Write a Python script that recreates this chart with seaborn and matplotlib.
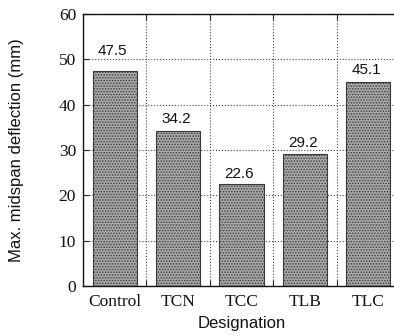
import matplotlib
matplotlib.use("Agg")
import matplotlib.pyplot as plt
import seaborn as sns
import pandas as pd
from matplotlib.ticker import MultipleLocator, FixedLocator

categories = ["Control", "TCN", "TCC", "TLB", "TLC"]
values = [47.5, 34.2, 22.6, 29.2, 45.1]
# vertical offset of each value label above its bar (data units, layout only)
label_offsets = [4.3, 2.7, 2.1, 2.4, 2.5]

df = pd.DataFrame({"Designation": categories, "Deflection": values})

sns.set_theme(style="white")
plt.rcParams["hatch.linewidth"] = 0.7

fig = plt.figure(figsize=(3.94, 3.36), dpi=100)
ax = fig.add_axes([83/394, 1-286/336, (400-83)/394, (286-14)/336])

sns.barplot(data=df, x="Designation", y="Deflection", ax=ax, color="#a8a8a8",
            width=0.7, edgecolor="#3a3a3a", linewidth=0.8, saturation=1)
for p in ax.patches:
    p.set_hatch("......")

for i, (v, off) in enumerate(zip(values, label_offsets)):
    ax.text(i - 0.035, v + off, f"{v}", ha="center", va="center",
            fontsize=11, family="Liberation Sans", color="#111111")

ax.set_xlim(-0.5, 4.5)
ax.set_ylim(0, 60)
ax.yaxis.set_major_locator(MultipleLocator(10))
ax.xaxis.set_minor_locator(FixedLocator([0.5, 1.5, 2.5, 3.5]))
ax.grid(True, which="major", axis="y", linestyle=":", color="#444444", linewidth=0.8)
ax.grid(True, which="minor", axis="x", linestyle=":", color="#444444", linewidth=0.8)
ax.set_axisbelow(True)
ax.tick_params(axis="y", which="major", direction="in", length=4, left=True, right=False,
               labelsize=12.5, width=0.8, pad=5)
ax.tick_params(axis="x", which="major", length=0, labelsize=12.5, pad=6)
ax.tick_params(axis="x", which="minor", direction="in", length=4, top=True, bottom=True, width=0.8)
for lab in ax.get_xticklabels() + ax.get_yticklabels():
    lab.set_family("Liberation Serif")
    lab.set_color("#111111")

for s in ax.spines.values():
    s.set_color("#111111")
    s.set_linewidth(1.0)

ax.set_xlabel("Designation", fontsize=12, family="Liberation Sans", labelpad=4, color="#111111")
ax.set_ylabel("Max. midspan deflection (mm)", fontsize=12, family="Liberation Sans",
              color="#111111")
ax.yaxis.set_label_coords(-0.186, 0.5)

fig.savefig("out.png", dpi=100)
